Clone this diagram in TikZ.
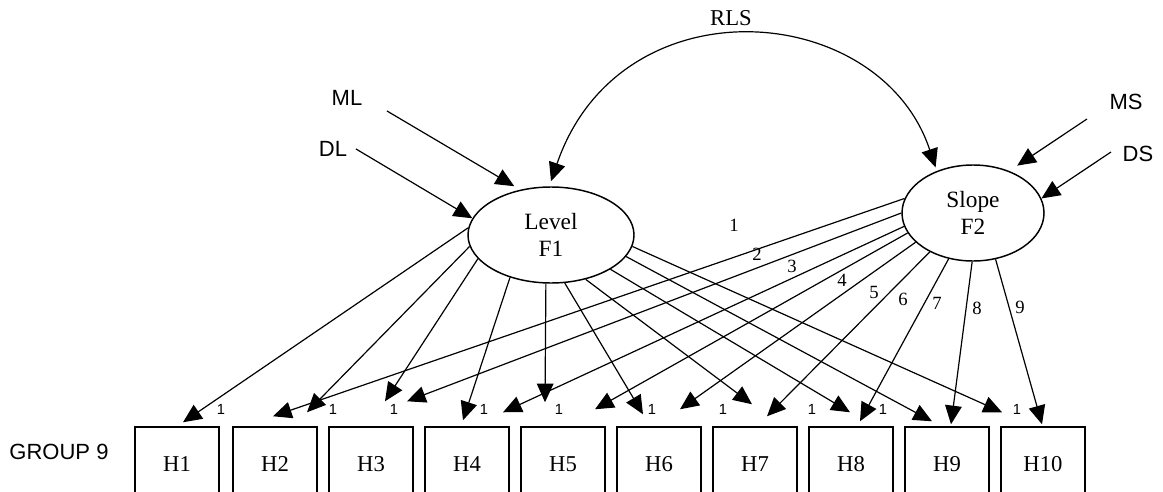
\documentclass[tikz,border=0pt]{standalone}
\usepackage{fontspec}
\setmainfont{Liberation Serif}
\newfontfamily\sansf{Liberation Sans}
\usetikzlibrary{arrows.meta,shapes.geometric}
\begin{document}
\begin{tikzpicture}[x=0.75pt,y=-0.75pt,
  conn/.style={line width=0.9pt,-{Triangle[length=14pt,width=12.5pt]}},
  biconn/.style={line width=0.9pt,{Triangle[length=14pt,width=12.5pt]}-{Triangle[length=14pt,width=12.5pt]}},
  latent/.style={ellipse,draw,line width=1.1pt,inner sep=0pt,align=center,font=\fontsize{17.5}{20.5}\selectfont},
  obs/.style={rectangle,draw,line width=1.1pt,minimum width=63pt,minimum height=55.5pt,inner sep=0pt,font=\fontsize{17}{20}\selectfont},
  lab/.style={font=\sansf\fontsize{16.5}{19}\selectfont,inner sep=0pt},
  seriflab/.style={font=\fontsize{17}{20}\selectfont,inner sep=0pt},
  num/.style={font=\fontsize{14}{16}\selectfont,inner sep=0pt},
  one/.style={font=\sansf\fontsize{11}{13}\selectfont,inner sep=0pt}]
\useasboundingbox (0,0) rectangle (1163,492);
\clip (0,0) rectangle (1163,492);
% observed boxes
\node[obs] (H1) at (177,464) {H1};
\node[obs] (H2) at (275,464) {H2};
\node[obs] (H3) at (371,464) {H3};
\node[obs] (H4) at (467,464) {H4};
\node[obs] (H5) at (563,464) {H5};
\node[obs] (H6) at (659,464) {H6};
\node[obs] (H7) at (755,464) {H7};
\node[obs] (H8) at (851,464) {H8};
\node[obs] (H9) at (947,464) {H9};
\node[obs] (H10) at (1043,464) {H10};
\node[lab] (grp) at (59,452) {GROUP 9};
% latent
\node[latent,minimum width=124.5pt,minimum height=72pt] (L) at (551,235) {Level\\F1};
\node[latent,minimum width=106.5pt,minimum height=72pt] (S) at (973,213) {Slope\\F2};
% labels
\node[seriflab] (rls) at (731,18) {RLS};
\node[lab] (ML) at (347,98) {ML};
\node[lab] (DL) at (333,149) {DL};
\node[lab] (MS) at (1126,102) {MS};
\node[lab] (DS) at (1138,154) {DS};
% RLS covariance
\draw[biconn] ([shift={(0,-5)}]L.north) .. controls (620,-20) and (880,0) .. ([shift={(0,-4)}]S.132);
% inputs
\draw[conn] ([shift={(40,13)}]ML.center) -- ([shift={(0,-5)}]L.130);
\draw[conn] ([shift={(23,0)}]DL.center) -- (L.168);
\draw[conn] ([shift={(-39,17)}]MS.center) -- ([shift={(0,-9)}]S.41);
\draw[conn] ([shift={(-27,-2)}]DS.center) -- (S.12.4);
% Level loadings
\draw[conn] (L.175) -- ([shift={(6,-4)}]H1.north);
\draw[conn] (L.188.5) -- ([shift={(32,-14)}]H2.north);
\draw[conn] (L.198) -- ([shift={(14,-25)}]H3.north);
\draw[conn] (L.226) -- ([shift={(-4,-6)}]H4.north);
\draw[conn] (L.264) -- ([shift={(-18,-24)}]H5.north);
\draw[conn] (L.286) -- ([shift={(-16,-12)}]H6.north);
\draw[conn] (L.308.5) -- ([shift={(-3,-22)}]H7.north);
\draw[conn] (L.330) -- ([shift={(-1,-14)}]H8.north);
\draw[conn] (L.344) -- ([shift={(-15,-5)}]H9.north);
\draw[conn] (L.352) -- ([shift={(-41,-14)}]H10.north);
% Slope loadings
\draw[conn] (S.168.7) -- ([shift={(-2,-10)}]H2.north);
\draw[conn] (S.180) -- ([shift={(36,-25)}]H3.north);
\draw[conn] (S.191) -- ([shift={(36,-14)}]H4.north);
\draw[conn] (S.197) -- ([shift={(32,-17)}]H5.north);
\draw[conn] (S.207) -- ([shift={(21,-17)}]H6.north);
\draw[conn] (S.222) -- ([shift={(12,-10)}]H7.north);
\draw[conn] (S.242) -- ([shift={(9,-5)}]H8.north);
\draw[conn] (S.269) -- ([shift={(4,-2)}]H9.north);
\draw[conn] (S.296) -- ([shift={(-1,-2)}]H10.north);
% slope numbers
\node[num] (s1) at (734,225) {1};
\node[num] (s2) at (757,254) {2};
\node[num] (s3) at (792,266) {3};
\node[num] (s4) at (842,280) {4};
\node[num] (s5) at (874,292) {5};
\node[num] (s6) at (903,299) {6};
\node[num] (s7) at (937,303) {7};
\node[num] (s8) at (977,308) {8};
\node[num] (s9) at (1020,307) {9};
% level ones
\node[one] (o1) at (221,409) {1};
\node[one] (o2) at (333,409) {1};
\node[one] (o3) at (394,409) {1};
\node[one] (o4) at (484,409) {1};
\node[one] (o5) at (559,409) {1};
\node[one] (o6) at (652,409) {1};
\node[one] (o7) at (723,409) {1};
\node[one] (o8) at (812,409) {1};
\node[one] (o9) at (883,409) {1};
\node[one] (o10) at (1017,409) {1};
\end{tikzpicture}
\end{document}
